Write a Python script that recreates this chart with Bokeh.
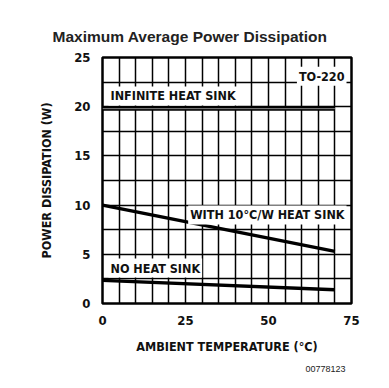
import numpy as np
from bokeh.plotting import figure
from bokeh.models import Range1d, FixedTicker, Label, Title
from bokeh.embed import file_html
from bokeh.resources import INLINE

# data
temp = [0, 70]
infinite_sink = [19.8, 19.8]
sink_10cw = [10.0, 5.3]
no_sink = [2.35, 1.4]
x_ticks = [0, 25, 50, 75]
y_ticks = [0, 5, 10, 15, 20, 25]

FONT = "DejaVu Sans Condensed"
W, H = 385, 384
L, R, T, B = 102, 351, 57, 303

p = figure(width=W, height=H, output_backend="svg", toolbar_location=None,
           x_range=Range1d(0, 75), y_range=Range1d(0, 25),
           min_border_left=L, min_border_right=W - R,
           min_border_top=T, min_border_bottom=H - B)
p.title = None
p.background_fill_color = "white"
p.border_fill_color = "white"
p.outline_line_color = "black"
p.outline_line_width = 2.5

for ax in (p.xaxis, p.yaxis):
    ax.axis_line_color = None
    ax.major_tick_line_color = None
    ax.minor_tick_line_color = None
    ax.major_label_text_font = FONT
    ax.major_label_text_font_style = "bold"
    ax.major_label_text_font_size = "13px"
    ax.major_label_text_color = "#111111"
    ax.axis_label_text_font = FONT
    ax.axis_label_text_font_style = "bold"
    ax.axis_label_text_font_size = "12.5px"
    ax.axis_label_text_color = "#111111"

p.xaxis.ticker = FixedTicker(ticks=x_ticks)
p.yaxis.ticker = FixedTicker(ticks=y_ticks)
p.xaxis.major_label_standoff = 6
p.yaxis.major_label_standoff = 6
p.xaxis.axis_label = "AMBIENT TEMPERATURE (°C)"
p.yaxis.axis_label = "POWER DISSIPATION (W)"
p.xaxis.axis_label_standoff = 11
p.yaxis.axis_label_standoff = 17

p.xgrid.ticker = FixedTicker(ticks=list(np.arange(0, 76, 5)))
p.ygrid.ticker = FixedTicker(ticks=list(np.arange(0, 25.1, 2.5)))
for g in (p.xgrid, p.ygrid):
    g.grid_line_color = "black"
    g.grid_line_width = 1.5
    g.grid_line_alpha = 1.0

p.line(temp, infinite_sink, line_color="black", line_width=4)
p.line(temp, infinite_sink, line_color="#888888", line_width=1)
p.line(temp, sink_10cw, line_color="black", line_width=3.5)
p.line(temp, no_sink, line_color="black", line_width=3.5)

def lab(x, y, text, align="left", pad=2):
    p.add_layout(Label(x=x, y=y, text=text, text_font=FONT, text_font_style="bold",
                       text_font_size="12.5px", text_color="#111111",
                       text_align=align, text_baseline="middle",
                       background_fill_color="white", padding=pad))

lab(73.5, 23.1, "TO-220", "right")
lab(1.8, 21.1, "INFINITE HEAT SINK")
lab(73.5, 9.0, "WITH 10°C/W HEAT SINK", "right")
lab(1.8, 3.6, "NO HEAT SINK")

title = Title(text="Maximum Average Power Dissipation", align="left", offset=-50,
              vertical_align="top",
              text_font="Liberation Sans", text_font_style="bold",
              text_font_size="15.5px", text_color="#222222",
              standoff=22)
p.add_layout(title, "above")

note = Title(text="00778123", align="right", offset=6,
             text_font="Liberation Sans", text_font_style="normal",
             text_font_size="9px", text_color="#222222", standoff=14)
p.add_layout(note, "below")

open("out.html", "w").write(file_html(p, INLINE))
